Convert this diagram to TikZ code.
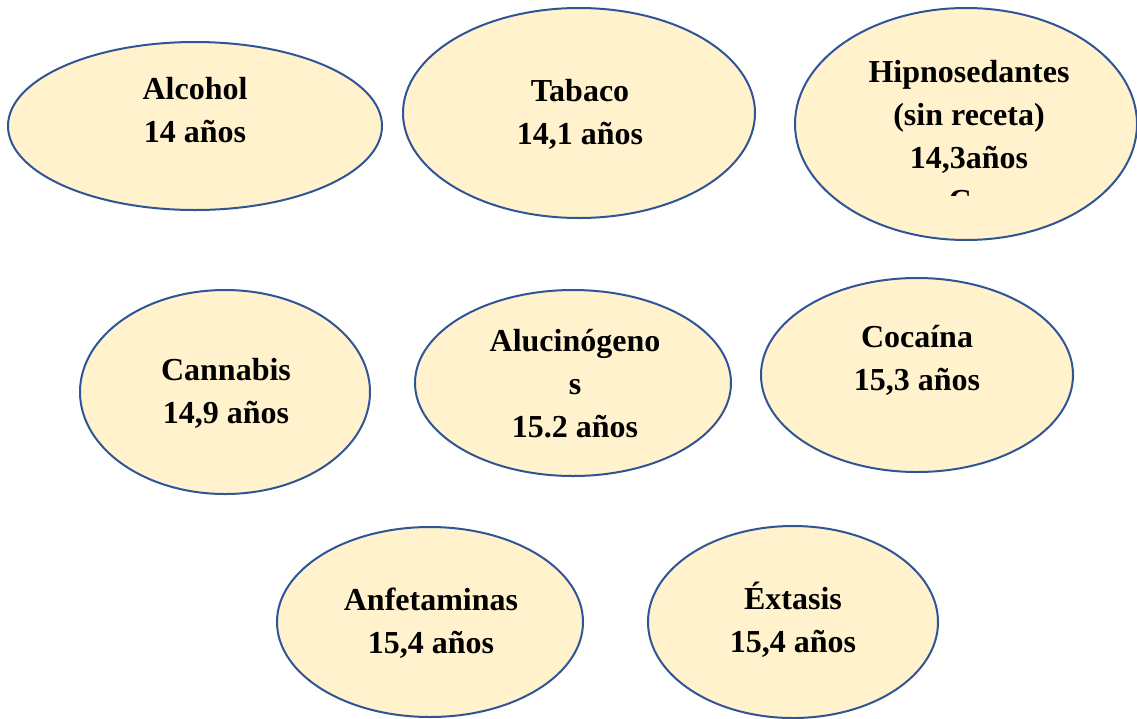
\documentclass[tikz,border=0pt]{standalone}
\usepackage{fontspec}
\setmainfont{Liberation Serif}
\usetikzlibrary{shapes.geometric}
\definecolor{bubfill}{HTML}{FFF2CC}
\definecolor{bubline}{HTML}{2F5597}
\begin{document}
\begin{tikzpicture}[x=1pt,y=-1pt,
  bub/.style={ellipse, draw=bubline, fill=bubfill, line width=2pt, inner sep=0pt},
  lab/.style={font=\fontsize{32}{43}\selectfont\bfseries, align=center, inner sep=0pt}]
\useasboundingbox (0,0) rectangle (1137,718);
% ellipses
\node[bub, minimum width=374pt, minimum height=168pt] (alc) at (195,126) {};
\node[bub, minimum width=352pt, minimum height=210pt] (tab) at (579,113) {};
\node[bub, minimum width=342pt, minimum height=232pt] (hip) at (966,124) {};
\node[bub, minimum width=290pt, minimum height=204pt] (can) at (225,392) {};
\node[bub, minimum width=316pt, minimum height=186pt] (alu) at (573,383) {};
\node[bub, minimum width=312pt, minimum height=194pt] (coc) at (917,375) {};
\node[bub, minimum width=306pt, minimum height=190pt] (anf) at (430,622) {};
\node[bub, minimum width=290pt, minimum height=192pt] (ext) at (793,622) {};
% labels
\node[lab] (talc) at (195,110.5) {Alcohol\\14 años};
\node[lab] (ttab) at (580,114) {Tabaco\\14,1 años};
\begin{scope}
  \clip (790,0) rectangle (1137,195);
  \node[lab] (thip) at (969,136) {Hipnosedantes\\(sin receta)\\14,3años\\Cn};
\end{scope}
\node[lab] (tcan) at (226,393) {Cannabis\\14,9 años};
\node[lab] (talu) at (575,383.5) {Alucinógeno\\s\\15.2 años};
\node[lab] (tcoc) at (917,360) {Cocaína\\15,3 años};
\node[lab] (tanf) at (431,623) {Anfetaminas\\15,4 años};
\node[lab] (text) at (793,619.5) {Éxtasis\\15,4 años};
\end{tikzpicture}
\end{document}
